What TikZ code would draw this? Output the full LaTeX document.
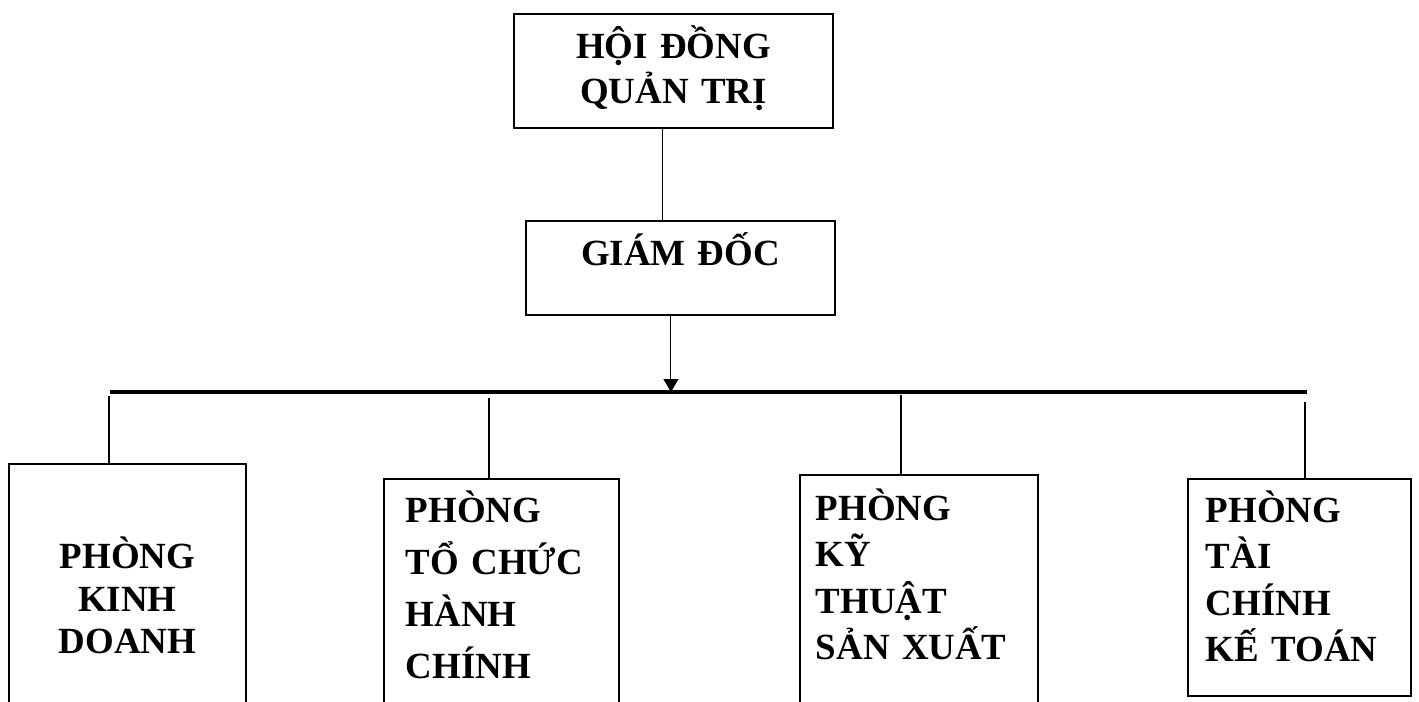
\documentclass[tikz,border=0pt]{standalone}
\usepackage{fontspec}
\setmainfont{Liberation Serif}
\usetikzlibrary{arrows.meta}

\newcommand\unitfont[1]{\fontsize{21}{#1}\selectfont\bfseries}

\begin{document}
\begin{tikzpicture}[x=0.02cm, y=-0.02cm,
    unit/.style={draw, line width=1.1pt, inner ysep=0pt, anchor=north west},
    drop/.style={line width=0.6pt}]
    \useasboundingbox (0,0) rectangle (1419,702);

    % top of the chart
    \node[unit, inner xsep=0pt, text width=6.38cm, align=center, text height=0.9cm, text depth=1.38cm,
        font={\unitfont{25.6pt}}] (hdqt) at (513,13) {HỘI ĐỒNG\\QUẢN TRỊ};
    \node[unit, inner xsep=0pt, text width=6.18cm, align=center, text height=0.9cm, text depth=0.98cm,
        font={\unitfont{25.6pt}}] (gd) at (525,220) {GIÁM ĐỐC};

    % departments
    \node[unit, inner xsep=0pt, text width=4.74cm, align=center, text height=2.1cm, text depth=2.84cm,
        font={\unitfont{24.2pt}}] (kd) at (8,463) {PHÒNG\\KINH\\DOANH};
    \node[unit, inner xsep=0.44cm, text width=3.82cm, align=left, text height=0.88cm, text depth=3.76cm,
        font={\unitfont{29.6pt}}] (tchc) at (383,478) {PHÒNG\\TỔ CHỨC\\HÀNH\\CHÍNH};
    \node[unit, inner xsep=0.32cm, text width=4.12cm, align=left, text height=0.92cm, text depth=3.8cm,
        font={\unitfont{26.2pt}}] (ktsx) at (799,474) {PHÒNG\\KỸ\\THUẬT\\SẢN XUẤT};
    \node[unit, inner xsep=0.36cm, text width=3.74cm, align=left, text height=0.88cm, text depth=3.46cm,
        font={\unitfont{26.2pt}}] (tckt) at (1187,478) {PHÒNG\\TÀI\\CHÍNH\\KẾ TOÁN};

    % board to director
    \coordinate (hq) at ([xshift=-0.21cm]hdqt.south);
    \draw[drop] (hq) -- (hq |- gd.north);

    % horizontal bus
    \coordinate (busL) at (110,392);
    \coordinate (busR) at (1307,392);
    \draw[line width=1.9pt] (busL) -- (busR);

    % director down to bus
    \coordinate (go) at ([xshift=-0.19cm]gd.south);
    \draw[drop, -{Triangle[width=0.3cm, length=0.26cm]}] (go) -- (go |- busL);

    % bus down to departments
    \coordinate (d1) at (109,396);
    \draw[drop] (d1) -- (d1 |- kd.north);
    \coordinate (d2) at (489,398);
    \draw[drop] (d2) -- (d2 |- tchc.north);
    \coordinate (d3) at (901,395);
    \draw[drop] (d3) -- (d3 |- ktsx.north);
    \coordinate (d4) at (1305,402);
    \draw[drop] (d4) -- (d4 |- tckt.north);

\end{tikzpicture}
\end{document}
